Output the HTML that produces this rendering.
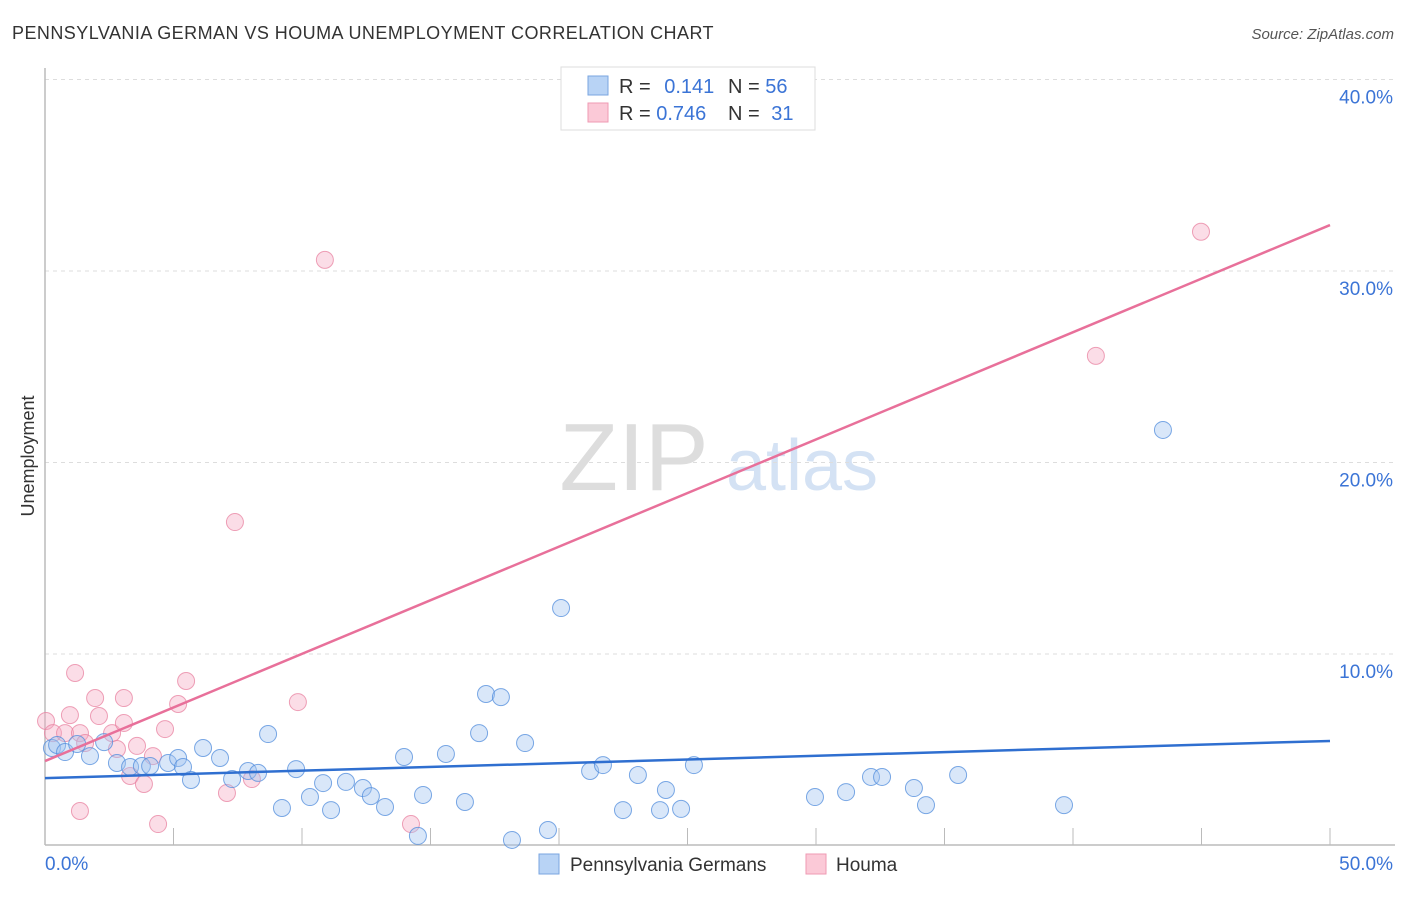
<!DOCTYPE html>
<html><head><meta charset="utf-8">
<style>
body{margin:0;background:#fff;width:1406px;height:892px;overflow:hidden;font-family:"Liberation Sans",sans-serif;}
svg text{font-family:"Liberation Sans",sans-serif;}
</style></head>
<body>
<svg id="chart" width="1406" height="892">
<text x="12" y="39" font-size="18" fill="#333" letter-spacing="0.45">PENNSYLVANIA GERMAN VS HOUMA UNEMPLOYMENT CORRELATION CHART</text>
<text x="1394" y="39" font-size="15" fill="#555" font-style="italic" text-anchor="end">Source: ZipAtlas.com</text>
<text x="34" y="456" font-size="18" fill="#333" text-anchor="middle" transform="rotate(-90 34 456)">Unemployment</text>
<g>
<text x="634" y="490" font-size="96" fill="#ddd" font-family="Liberation Serif" text-anchor="middle">ZIP</text>
<text x="802" y="490" font-size="72" fill="#d4e2f4" text-anchor="middle">atlas</text>
</g>
<g id="grid"></g>
<g id="axes"></g>
<g id="marks"></g>
<g>
<rect x="561" y="67" width="254" height="63" fill="#fff" stroke="#ddd"/>
<rect x="588" y="76" width="20" height="19" fill="#b8d3f5" stroke="#7aa6e0"/>
<rect x="588" y="103" width="20" height="19" fill="#fbc9d7" stroke="#ef9ab3"/>
<text x="619" y="93" font-size="20" fill="#333">R = <tspan fill="#3b74d6" dx="8">0.141</tspan></text>
<text x="728" y="93" font-size="20" fill="#333">N = <tspan fill="#3b74d6">56</tspan></text>
<text x="619" y="120" font-size="20" fill="#333">R = <tspan fill="#3b74d6">0.746</tspan></text>
<text x="728" y="120" font-size="20" fill="#333">N = <tspan fill="#3b74d6" dx="6">31</tspan></text>
</g>
<g>
<rect x="539" y="854" width="20" height="20" fill="#b8d3f5" stroke="#7aa6e0"/>
<text x="570" y="871" font-size="19" fill="#333">Pennsylvania Germans</text>
<rect x="806" y="854" width="20" height="20" fill="#fbc9d7" stroke="#ef9ab3"/>
<text x="836" y="871" font-size="19" fill="#333">Houma</text>
</g>
</svg>
<script>
const blueX=[0.27,0.47,0.78,1.25,1.75,2.30,2.80,3.31,3.77,4.09,4.79,5.18,5.37,5.68,6.15,6.81,7.28,7.90,8.29,8.68,9.22,9.77,10.31,10.82,11.13,11.71,12.37,12.68,13.23,13.97,14.51,14.71,15.60,16.34,16.89,17.16,17.74,18.17,18.68,19.57,20.08,21.21,21.71,22.49,23.07,23.93,24.16,24.75,25.25,29.96,31.17,32.14,32.57,33.81,34.28,35.53,39.65,43.50];
const blueY=[5.09,5.25,4.88,5.30,4.67,5.40,4.31,4.10,4.15,4.15,4.31,4.57,4.10,3.42,5.09,4.57,3.47,3.89,3.79,5.82,1.96,3.99,2.53,3.26,1.85,3.32,3.00,2.58,2.01,4.62,0.50,2.64,4.78,2.27,5.87,7.91,7.75,0.29,5.35,0.81,12.40,3.89,4.20,1.85,3.68,1.85,2.90,1.91,4.20,2.53,2.79,3.58,3.58,3.00,2.11,3.68,2.11,21.70];
const pinkX=[0.04,0.31,0.78,0.97,1.17,1.36,1.56,1.36,1.95,2.10,2.61,2.80,3.07,3.07,3.31,3.58,3.85,4.20,4.40,4.67,5.18,5.49,7.08,7.39,8.05,9.84,10.89,14.24,40.89,44.98];
const pinkY=[6.50,5.87,5.87,6.81,9.01,5.87,5.35,1.80,7.70,6.76,5.87,5.04,7.70,6.40,3.63,5.20,3.21,4.67,1.12,6.08,7.39,8.59,2.74,16.89,3.47,7.49,30.58,1.12,25.57,32.05];
const blueTrend=[3.52,5.46];
const pinkTrend=[4.41,32.40];
const yTicks=[10,20,30,40];
const yTickLabels=["10.0%","20.0%","30.0%","40.0%"];
const xTicks=[0,5,10,15,20,25,30,35,40,45,50];
const xEndLabels=["0.0%","50.0%"];

const NS="http://www.w3.org/2000/svg";
const X=v=>45+v/50*1285;
const Y=v=>845.5-v/10*191.5;
function mk(tag,attrs,parent){const e=document.createElementNS(NS,tag);for(const k in attrs)e.setAttribute(k,attrs[k]);parent.appendChild(e);return e;}
const grid=document.getElementById('grid'),axes=document.getElementById('axes'),marks=document.getElementById('marks');
yTicks.forEach((t,i)=>{
 const l=mk('line',{x1:45,x2:1393,y1:Y(t),y2:Y(t),stroke:'#ddd','stroke-dasharray':'4,4'},grid);
 
 
 const tx=mk('text',{x:1393,y:Y(t)+24,'font-size':19,fill:'#3b74d6','text-anchor':'end'},axes);
 tx.textContent=yTickLabels[i];
 
 
});
const ax=mk('line',{x1:45,x2:45,y1:68,y2:845,stroke:'#bbb','stroke-width':1.5},axes);


const bx=mk('line',{x1:45,x2:1395,y1:845,y2:845,stroke:'#bbb','stroke-width':1.5},axes);


xTicks.forEach(t=>{if(t===0)return;
 const l=mk('line',{x1:X(t),x2:X(t),y1:828,y2:845,stroke:'#bbb'},axes);
 
 
});
const xl0=mk('text',{x:45,y:870,'font-size':19,fill:'#3b74d6'},axes);xl0.textContent=xEndLabels[0];


const xl1=mk('text',{x:1393,y:870,'font-size':19,fill:'#3b74d6','text-anchor':'end'},axes);xl1.textContent=xEndLabels[1];


pinkX.forEach((x,i)=>{
 const c=mk('circle',{cx:X(x),cy:Y(pinkY[i]),r:8.5,fill:'rgba(246,170,194,0.4)',stroke:'rgba(232,130,160,0.75)','stroke-width':1},marks);
 
 
});
blueX.forEach((x,i)=>{
 const c=mk('circle',{cx:X(x),cy:Y(blueY[i]),r:8.5,fill:'rgba(160,196,240,0.4)',stroke:'rgba(80,140,220,0.75)','stroke-width':1},marks);
 
 
});
const bl=mk('line',{x1:X(0),x2:X(50),y1:Y(blueTrend[0]),y2:Y(blueTrend[1]),stroke:'#2f6fd0','stroke-width':2.5},marks);


const pl=mk('line',{x1:X(0),x2:X(50),y1:Y(pinkTrend[0]),y2:Y(pinkTrend[1]),stroke:'#e8709a','stroke-width':2.5},marks);


</script>
</body></html>
